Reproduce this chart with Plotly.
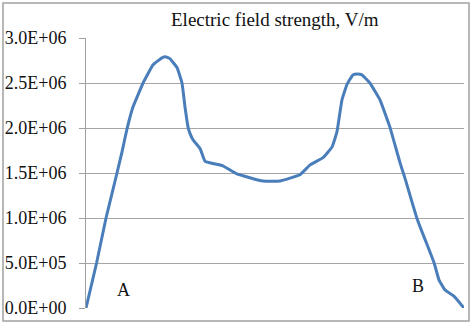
import plotly.graph_objects as go

# distance along path A -> B (arbitrary units, 0..100)
distance = [0, 2.8, 5.3, 8.2, 9.5, 10.8, 12.4, 15.1, 17.7, 20.1, 21.2, 22.2, 24.1, 25.4,
            26.2, 27.0, 27.5, 28.3, 30.2, 31.5, 36.2, 39.9, 46.8, 51.3, 56.6, 59.3,
            62.7, 65.1, 66.4, 67.7, 69.0, 70.6, 71.8, 73.0, 75.1, 77.8, 80.4, 83.1,
            84.4, 87.6, 92.1, 93.4, 95.0, 97.4, 100]
field = [0.0, 0.50e6, 1.00e6, 1.50e6, 1.73e6, 1.98e6, 2.23e6, 2.50e6, 2.70e6, 2.78e6,
         2.79e6, 2.77e6, 2.67e6, 2.50e6, 2.23e6, 2.01e6, 1.94e6, 1.87e6, 1.77e6, 1.63e6,
         1.58e6, 1.49e6, 1.41e6, 1.41e6, 1.48e6, 1.59e6, 1.67e6, 1.79e6, 1.96e6, 2.31e6,
         2.48e6, 2.59e6, 2.60e6, 2.59e6, 2.50e6, 2.31e6, 2.01e6, 1.61e6, 1.44e6, 0.99e6,
         0.50e6, 0.31e6, 0.20e6, 0.13e6, 0.0]

tick_vals = [0, 0.5e6, 1.0e6, 1.5e6, 2.0e6, 2.5e6, 3.0e6]
tick_text = ["0.0E+00", "5.0E+05", "1.0E+06", "1.5E+06", "2.0E+06", "2.5E+06", "3.0E+06"]

title_text = "Electric field strength, V/m"
point_labels = ["A", "B"]
point_x = [9.8, 87.8]
point_y = [0.20e6, 0.24e6]

FONT = "Liberation Serif"

fig = go.Figure()
fig.add_trace(go.Scatter(x=distance, y=field, mode="lines",
                         line=dict(color="#4a7ebb", width=3, shape="spline", smoothing=0.3),
                         showlegend=False, hoverinfo="skip"))

for t, xx, yy in zip(point_labels, point_x, point_y):
    fig.add_annotation(x=xx, y=yy, text=t, showarrow=False,
                       font=dict(family=FONT, size=18, color="#111"))

fig.add_annotation(x=0.5, y=1.0, xref="paper", yref="paper", yanchor="middle", yshift=19,
                   text=title_text, showarrow=False,
                   font=dict(family=FONT, size=19, color="#111"))

# outer chart frame
fig.add_shape(type="rect", xref="paper", yref="paper",
              x0=-0.2196, x1=1.0132, y0=-0.048, y1=1.1296,
              line=dict(color="#a0a0a0", width=1.5), fillcolor="rgba(0,0,0,0)", layer="below")

fig.update_layout(
    width=474, height=326,
    margin=dict(l=86, r=10, t=38, b=18, autoexpand=False),
    paper_bgcolor="white", plot_bgcolor="white",
    font=dict(family=FONT),
    xaxis=dict(range=[0, 100], showgrid=False, zeroline=False, showticklabels=False,
               showline=False, fixedrange=True),
    yaxis=dict(range=[0, 3.0e6], tickvals=tick_vals, ticktext=tick_text, automargin=False,
               showgrid=True, gridcolor="#a6a6a6", gridwidth=1.2,
               zeroline=False, showline=True, linecolor="#a0a0a0", linewidth=1,
               ticks="outside", ticklen=6, tickcolor="#a0a0a0",
               tickfont=dict(family=FONT, size=18, color="#111"),
               ticklabelstandoff=9),
)

fig.write_html("out.html")
